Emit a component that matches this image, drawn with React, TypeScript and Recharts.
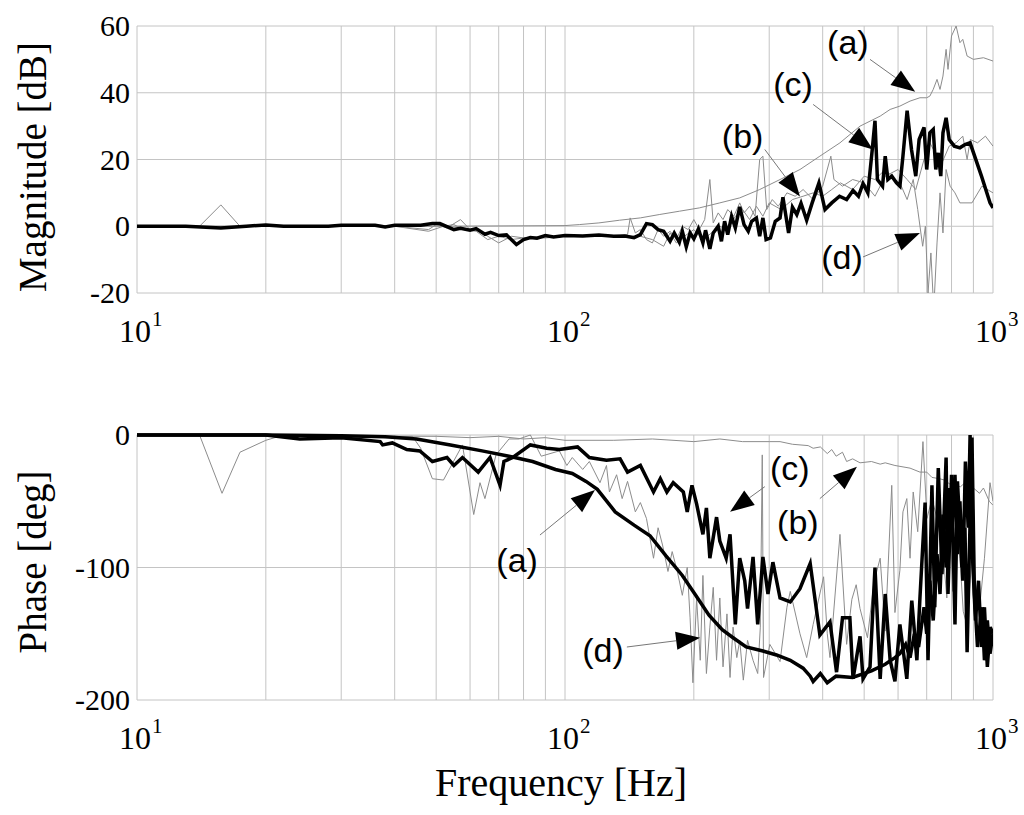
import React from 'react';
import { LineChart, Line, XAxis, YAxis, CartesianGrid, ReferenceLine, ReferenceDot } from 'recharts';

// ---------- data: [frequency Hz, value] ----------
const MAG_A: [number, number][] = [
  [10, 0], [50, 0], [100, 0.2], [108, 0.5], [120, 1], [134, 1.8], [150, 2.5], [166, 3.5], [185, 4.5], [206, 5.5],
  [230, 7], [256, 8.5], [285, 11], [318, 14], [354, 17], [394, 21], [439, 25], [489, 30], [545, 33], [575, 35],
  [606, 36], [640, 37.5], [675, 38.5], [700, 38.5], [712, 39], [725, 41], [740, 44], [752, 41], [764, 45], [777, 53],
  [785, 47], [800, 57], [820, 60], [837, 55], [850, 56], [870, 51], [900, 50], [950, 50.5], [1000, 49.5],
];
const MAG_B: [number, number][] = [
  [10, 0], [14, 0], [15.7, 6.4], [17.4, 0], [20, 0], [30, 0], [35, 0.5], [40, 0], [48, -1], [50, 0.5], [53, -0.5],
  [57, 2], [60, -1], [63, -1.5], [66, -3], [70, -5], [75, -3], [80, -3.5], [90, -3], [100, -3], [120, -2.5], [130, -3],
  [140, -2.5], [142, 2.5], [146, -2], [150, -1], [155, -4], [160, -5], [165, -1], [170, -3], [176, -1.5], [182, -4],
  [188, 0], [194, -1], [200, 2], [206, -1], [212, 2], [218, 14], [222, 1], [228, 4], [234, 2], [240, 5], [248, 3],
  [256, 7], [262, 4], [270, 6], [278, 3], [285, 20], [290, 21], [296, 5], [305, 8], [315, 6], [330, 10], [345, 9],
  [360, 11], [380, 8], [400, 12], [418, 21], [425, 14], [445, 12], [470, 14], [500, 13], [530, 9], [560, 15],
  [600, 17], [630, 14], [660, 11], [690, 20], [712, 25], [740, 21], [760, 19], [790, 24], [820, 25], [850, 27],
  [870, 20], [885, 26], [920, 25], [960, 27], [1000, 24],
];
const MAG_C: [number, number][] = [
  [10, 0], [13, 0], [15.7, -0.5], [18, 0], [20, 0.4], [22, 0], [28, 0], [30, 0.3], [36, 0.3], [38, -0.2], [40, 0.3],
  [46, 0.3], [49, 0.8], [51, 0.8], [55, -1], [57, -0.6], [60, -1.2], [62, -0.7], [65, -2.4], [67, -1.8], [70, -2.8],
  [73, -2.6], [77, -5.5], [80, -4], [83, -3.4], [86, -3.6], [90, -2.8], [94, -3.2], [100, -2.8], [110, -2.9],
  [120, -2.6], [130, -3], [138, -2.9], [145, -3.4], [150, -2.5], [155, 0.8], [160, 0.5], [165, -1], [170, -1.5],
  [176, -4.5], [180, -2], [185, -4.8], [188, -1.5], [192, -6.2], [196, -2], [200, -3.8], [205, -0.8], [210, -5],
  [213, -1.2], [218, -6.8], [222, -2], [228, 0], [232, -4.5], [236, 1.5], [240, -2.5], [245, 3], [250, -0.5],
  [256, 5.8], [262, 0.5], [268, -1.5], [273, 1.5], [280, 2.5], [285, -3], [290, 2.5], [295, -4], [302, -3.5],
  [310, 1.5], [318, 2.5], [323, 8.7], [333, -2], [340, 5.7], [348, 3.5], [356, 6.9], [367, 1.8], [378, 7], [392, 13],
  [405, 5], [420, 7], [438, 9], [455, 8], [471, 10.7], [485, 9], [497, 12.8], [510, 10], [522, 22.7], [530, 31.6],
  [537, 14], [552, 12], [560, 21], [568, 14], [580, 15], [595, 13], [606, 12], [616, 21], [630, 34.6], [645, 23],
  [660, 15], [672, 26], [690, 29.6], [700, 17], [712, 28], [725, 29], [735, 17], [745, 22], [755, 15], [764, 28],
  [777, 32.5], [790, 26], [812, 24], [837, 23.5], [860, 24.5], [884, 25], [940, 15], [984, 7], [1000, 5.5],
];
const MAG_D: [number, number][] = [
  [10, 0], [40, 0], [48, -1.5], [52, 0], [55, 0.5], [58, -1], [62, -1.5], [66, -4], [70, -3], [75, -4], [80, -3.5],
  [90, -3.5], [100, -3], [130, -3], [150, -3], [160, -4], [170, -6], [176, -2], [182, -5], [190, -3], [200, -1],
  [210, -4], [220, -2], [230, 0], [240, -1], [250, 3], [260, 5], [270, 2], [280, 6], [290, 3], [300, 7], [320, 5],
  [340, 8], [360, 9], [380, 10], [400, 9], [420, 11], [440, 13], [470, 11], [500, 15], [530, 14], [560, 17],
  [590, 14], [606, 13], [630, 8], [651, 14], [667, 5], [685, -6], [695, 0], [705, -20], [716, -8], [727, -25],
  [740, -5], [752, 10], [764, -2], [777, 17], [794, 12], [815, 10], [837, 7], [893, 7], [942, 12], [1000, 10],
];

const PH_A: [number, number][] = [
  [10, 0], [20, 0], [30, -0.5], [38, -1.3], [45, -3], [54, -7.5], [64, -12], [74, -16], [84, -20], [95, -26],
  [104, -29], [112, -35], [119, -41], [131, -58], [145, -68], [158, -76], [172, -91], [188, -106], [202, -121],
  [217, -136], [233, -147], [247, -153], [265, -160], [290, -163], [312, -166], [336, -170], [360, -176], [374, -182],
  [380, -186], [395, -180], [410, -187], [430, -182], [470, -183], [520, -178], [560, -173], [590, -168],
  [606, -165], [625, -158], [640, -168], [655, -150], [670, -160], [690, -130], [700, -150], [712, -110],
  [725, -140], [740, -90], [752, -120], [764, -60], [777, -100], [790, -40], [800, -80], [815, -30], [826, -90],
  [837, -50], [850, -110], [862, -20], [875, -70], [884, 0], [895, -90], [910, -140], [925, -110], [940, -160],
  [955, -130], [970, -175], [985, -145], [1000, -150],
];
const PH_B: [number, number][] = [
  [10, 0], [50, -1], [60, -2], [70, -1], [80, -3], [90, -2], [100, -4], [130, -4], [160, -3], [200, -5], [230, -3],
  [260, -5], [300, -5], [318, -5], [340, -7], [370, -8], [380, -10], [395, -9], [410, -14], [420, -11], [430, -16],
  [445, -13], [455, -20], [470, -18], [489, -21], [520, -20], [545, -22], [560, -21], [590, -23], [640, -25],
  [675, -28], [700, -28], [720, -32], [750, -33], [770, -34], [800, -38], [840, -39], [860, -36], [880, -42],
  [900, -40], [930, -44], [950, -40], [980, -50], [1000, -53],
];
const PH_C: [number, number][] = [
  [10, 0], [20, 0], [24, -3], [30, -2], [37, -5], [37.5, -7.5], [39.5, -6], [42.7, -11], [45.8, -12], [49, -20],
  [53, -17], [55, -23], [57.6, -17], [62.7, -28], [66.8, -17], [70.5, -38], [72, -20], [75.5, -17], [83, -7.5],
  [90.6, -10], [97, -11], [107, -9], [114, -17], [125, -19], [134.5, -18], [140, -28], [150, -23], [161, -43],
  [167, -33], [173, -43], [179, -36], [189, -43], [193, -58], [198, -38], [203, -52], [210, -75], [214, -55],
  [218, -93], [226, -62], [230, -80], [238, -93], [243, -75], [250, -143], [256, -93], [263, -110], [267, -131],
  [275, -92], [282, -143], [290, -92], [298, -120], [306, -96], [318, -123], [336, -126], [354, -116], [374, -97],
  [394, -151], [416, -141], [431, -179], [445, -138], [463, -138], [471, -184], [489, -152], [497, -184],
  [516, -175], [530, -100], [545, -184], [560, -120], [575, -170], [590, -186], [606, -143], [629, -184],
  [646, -125], [664, -170], [675, -123], [694, -51], [705, -170], [720, -38], [731, -130], [745, -25], [760, -105],
  [777, -17], [785, -120], [800, -30], [815, -143], [826, -35], [846, -100], [860, -70], [870, -164], [893, -2],
  [905, -120], [920, -160], [942, -130], [955, -170], [970, -140], [984, -165], [1000, -150],
];
const PH_D: [number, number][] = [
  [10, 0], [14, 0], [15.8, -44], [17.4, -13], [20, -4], [22, 0], [30, 0], [38, -2], [44, -1], [46, -10], [49, -33],
  [52, -34], [57.6, -7.5], [61.2, -60], [63.3, -36], [65, -48], [69, -15], [74, -3], [78, -3], [83, 0], [88, -16],
  [97, -12], [101, -23], [104, -17], [110, -26], [114, -20], [120.7, -36], [125, -23], [127, -43], [132, -30],
  [136, -48], [140, -35], [146, -58], [150, -51], [155, -63], [161, -93], [165, -70], [169, -83], [174, -103],
  [178, -88], [183, -103], [188, -121], [193, -100], [196, -138], [199, -187], [203, -123], [207, -170],
  [210, -106], [214, -180], [218, -145], [222, -115], [226, -170], [230, -123], [234, -175], [239, -135],
  [243, -183], [247, -145], [252, -168], [256, -155], [261, -185], [267, -155], [275, -170], [282, -180],
  [286, -145], [289, -15], [291, -183], [301, -158], [318, -171], [330, -130], [336, -118], [354, -150],
  [367, -168], [380, -143], [402, -107], [410, -150], [416, -168], [439, -75], [455, -158], [468, -124],
  [479, -113], [489, -131], [509, -153], [527, -111], [545, -93], [560, -148], [580, -38], [590, -134],
  [606, -102], [616, -58], [629, -48], [640, -93], [651, -43], [667, -73], [686, -5], [701, -63], [720, -48],
  [740, -63], [764, -88], [780, -123], [794, -68], [805, -118], [820, -55], [837, -93], [852, -133], [868, -143],
  [893, -93], [915, -118], [932, -128], [955, -93], [984, -36], [1000, -50],
];

const X_TICKS = [10, 20, 30, 40, 50, 60, 70, 80, 90, 100, 200, 300, 400, 500, 600, 700, 800, 900, 1000];
const X_EXPONENTS: Record<number, string> = { 10: '1', 100: '2', 1000: '3' };
const MAG_TICKS = [-20, 0, 20, 40, 60];
const PH_TICKS = [-200, -100, 0];

// annotations: label, text anchor, arrow start, arrow tip (data coordinates)
const MAG_NOTES = [
  { label: '(a)', at: [458, 55.3], from: [516, 50], to: [658, 40.3] },
  { label: '(c)', at: [341, 42.5], from: [380, 36.5], to: [524, 23] },
  { label: '(b)', at: [260, 27], from: [293, 23], to: [354, 8.9] },
  { label: '(d)', at: [444, -9.2], from: [497, -9.2], to: [675, -2] },
];
const PH_NOTES = [
  { label: '(c)', at: [335, -25], from: [293, -39], to: [243, -58] },
  { label: '(b)', at: [350, -66], from: [394, -48], to: [481, -24] },
  { label: '(a)', at: [77.3, -94], from: [87.4, -75.5], to: [117.5, -41.5] },
  { label: '(d)', at: [122.7, -162], from: [139.5, -160], to: [206.8, -153] },
];

const toRows = (arr: [number, number][]) => arr.map(([f, v]) => ({ f, v }));

const SERIF = '"Liberation Serif", "Times New Roman", serif';
const SANS = '"Liberation Sans", Arial, sans-serif';
const GRID = '#c4c4c4';
const THIN = '#8c8c8c';

const XTick = (props: any) => {
  const { x, y, payload } = props;
  const exp = X_EXPONENTS[payload.value];
  if (!exp) return null;
  return (
    <g>
      <text x={x - 2} y={y + 47} textAnchor="middle" fontFamily={SERIF} fontSize={32} fill="#000">10</text>
      <text x={x + 15} y={y + 31} textAnchor="start" fontFamily={SERIF} fontSize={21} fill="#000">{exp}</text>
    </g>
  );
};

const YTick = (props: any) => {
  const { x, y, payload } = props;
  return (
    <text x={x} y={y} dy={10} textAnchor="end" fontFamily={SERIF} fontSize={30} fill="#000">{payload.value}</text>
  );
};

const arrowShape = (props: any) => {
  const { x1, y1, x2, y2 } = props;
  if ([x1, y1, x2, y2].some((v) => v == null || Number.isNaN(v))) return <g />;
  const dx = x2 - x1;
  const dy = y2 - y1;
  const len = Math.hypot(dx, dy) || 1;
  const ux = dx / len;
  const uy = dy / len;
  const hl = 24;
  const hw = 9;
  const bx = x2 - ux * hl;
  const by = y2 - uy * hl;
  const px = -uy * hw;
  const py = ux * hw;
  return (
    <g>
      <line x1={x1} y1={y1} x2={bx} y2={by} stroke="#777" strokeWidth={1} />
      <polygon points={`${x2},${y2} ${bx + px},${by + py} ${bx - px},${by - py}`} fill="#000" />
    </g>
  );
};

const labelShape = (label: string) => (props: any) => {
  const { cx, cy } = props;
  return (
    <text x={cx} y={cy} textAnchor="middle" dominantBaseline="central" fontFamily={SANS} fontSize={34} fill="#000">
      {label}
    </text>
  );
};

const renderNotes = (notes: typeof MAG_NOTES) =>
  notes.flatMap((n, i) => [
    <ReferenceLine
      key={`l${i}`}
      segment={[{ x: n.from[0], y: n.from[1] }, { x: n.to[0], y: n.to[1] }]}
      shape={arrowShape}
      ifOverflow="visible"
    />,
    <ReferenceDot key={`d${i}`} x={n.at[0]} y={n.at[1]} r={0} ifOverflow="visible" shape={labelShape(n.label)} />,
  ]);

export default function App() {
  return (
    <div style={{ position: 'absolute', left: 0, top: 0, width: 1024, height: 815, background: '#fff' }}>
      <div style={{ position: 'absolute', left: 0, top: 0 }}>
        <LineChart width={1024} height={360} margin={{ top: 26, right: 31, bottom: 7, left: 77 }}>
          <CartesianGrid stroke={GRID} strokeWidth={1} />
          <XAxis
            type="number"
            dataKey="f"
            scale="log"
            domain={[10, 1000]}
            ticks={X_TICKS}
            allowDataOverflow
            height={60}
            tickLine={false}
            axisLine={false}
            tickSize={0}
            tick={<XTick />}
            interval={0}
          />
          <YAxis
            type="number"
            domain={[-20, 60]}
            ticks={MAG_TICKS}
            allowDataOverflow
            width={60}
            tickLine={false}
            axisLine={false}
            tickSize={0}
            tickMargin={7}
            tick={<YTick />}
            interval={0}
          />
          <Line data={toRows(MAG_A)} dataKey="v" stroke={THIN} strokeWidth={1} dot={false} isAnimationActive={false} />
          <Line data={toRows(MAG_B)} dataKey="v" stroke={THIN} strokeWidth={1} dot={false} isAnimationActive={false} />
          <Line data={toRows(MAG_D)} dataKey="v" stroke={THIN} strokeWidth={1} dot={false} isAnimationActive={false} />
          <Line data={toRows(MAG_C)} dataKey="v" stroke="#000" strokeWidth={3.5} dot={false} isAnimationActive={false} />
          {renderNotes(MAG_NOTES)}
        </LineChart>
      </div>
      <div style={{ position: 'absolute', left: 0, top: 400 }}>
        <LineChart width={1024} height={415} margin={{ top: 35, right: 31, bottom: 55, left: 77 }}>
          <CartesianGrid stroke={GRID} strokeWidth={1} />
          <XAxis
            type="number"
            dataKey="f"
            scale="log"
            domain={[10, 1000]}
            ticks={X_TICKS}
            allowDataOverflow
            height={60}
            tickLine={false}
            axisLine={false}
            tickSize={0}
            tick={<XTick />}
            interval={0}
          />
          <YAxis
            type="number"
            domain={[-200, 0]}
            ticks={PH_TICKS}
            width={60}
            tickLine={false}
            axisLine={false}
            tickSize={0}
            tickMargin={7}
            tick={<YTick />}
            interval={0}
          />
          <Line data={toRows(PH_B)} dataKey="v" stroke={THIN} strokeWidth={1} dot={false} isAnimationActive={false} />
          <Line data={toRows(PH_D)} dataKey="v" stroke={THIN} strokeWidth={1} dot={false} isAnimationActive={false} />
          <Line data={toRows(PH_A)} dataKey="v" stroke="#000" strokeWidth={3.5} dot={false} isAnimationActive={false} />
          <Line data={toRows(PH_C)} dataKey="v" stroke="#000" strokeWidth={3.5} dot={false} isAnimationActive={false} />
          {renderNotes(PH_NOTES)}
        </LineChart>
      </div>
      <svg width={1024} height={815} style={{ position: 'absolute', left: 0, top: 0, pointerEvents: 'none' }}>
        <text transform="translate(46,167) rotate(-90)" textAnchor="middle" fontFamily={SERIF} fontSize={39} fill="#000">
          Magnitude [dB]
        </text>
        <text transform="translate(46,562) rotate(-90)" textAnchor="middle" fontFamily={SERIF} fontSize={39} fill="#000">
          Phase [deg]
        </text>
        <text x={561} y={796} textAnchor="middle" fontFamily={SERIF} fontSize={40} fill="#000">
          Frequency [Hz]
        </text>
      </svg>
    </div>
  );
}
